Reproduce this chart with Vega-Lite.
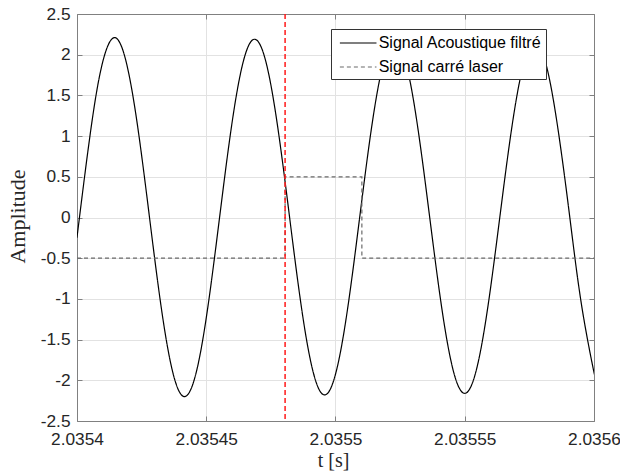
{
  "$schema": "https://vega.github.io/schema/vega-lite/v6.json",
  "autosize": {"type": "none"},
  "width": 517,
  "height": 407,
  "padding": {"left": 77, "top": 14, "right": 26, "bottom": 54},
  "background": "white",
  "view": {"stroke": null},
  "config": {
    "font": "Liberation Sans",
    "axis": {
      "labelFont": "Liberation Sans",
      "labelFontSize": 17.3,
      "labelColor": "#262626",
      "domainColor": "#808080",
      "tickColor": "#808080",
      "gridColor": "#e2e2e2",
      "titleFont": "Liberation Serif",
      "titleFontWeight": "normal",
      "titleColor": "#262626"
    },
    "legend": {
      "title": null, "orient": "none", "legendX": 254, "legendY": 15,
      "labelFont": "Liberation Sans", "labelFontSize": 16, "labelColor": "#000000",
      "labelLimit": 0, "labelExpr": "datum.label + ' '",
      "symbolType": "M-0.56,0H3.44", "symbolSize": 335, "symbolStrokeWidth": 1.2,
      "fillColor": "white", "strokeColor": "#333333", "padding": 4,
      "rowPadding": 6, "labelOffset": 23.7, "cornerRadius": 0
    }
  },
  "datasets": {
    "sig": [
      {"series": "Signal Acoustique filtré", "t": 2.0354, "y": -0.243},
      {"series": "Signal Acoustique filtré", "t": 2.03540095, "y": 0},
      {"series": "Signal Acoustique filtré", "t": 2.03540547, "y": 1.107},
      {"series": "Signal Acoustique filtré", "t": 2.03540998, "y": 1.915},
      {"series": "Signal Acoustique filtré", "t": 2.0354145, "y": 2.21},
      {"series": "Signal Acoustique filtré", "t": 2.03541902, "y": 1.912},
      {"series": "Signal Acoustique filtré", "t": 2.03542353, "y": 1.103},
      {"series": "Signal Acoustique filtré", "t": 2.03542805, "y": 0},
      {"series": "Signal Acoustique filtré", "t": 2.03543257, "y": -1.101},
      {"series": "Signal Acoustique filtré", "t": 2.03543708, "y": -1.906},
      {"series": "Signal Acoustique filtré", "t": 2.0354416, "y": -2.2},
      {"series": "Signal Acoustique filtré", "t": 2.03544612, "y": -1.903},
      {"series": "Signal Acoustique filtré", "t": 2.03545063, "y": -1.098},
      {"series": "Signal Acoustique filtré", "t": 2.03545515, "y": 0},
      {"series": "Signal Acoustique filtré", "t": 2.03545967, "y": 1.097},
      {"series": "Signal Acoustique filtré", "t": 2.03546418, "y": 1.898},
      {"series": "Signal Acoustique filtré", "t": 2.0354687, "y": 2.19},
      {"series": "Signal Acoustique filtré", "t": 2.03547322, "y": 1.895},
      {"series": "Signal Acoustique filtré", "t": 2.03547773, "y": 1.093},
      {"series": "Signal Acoustique filtré", "t": 2.03548225, "y": 0},
      {"series": "Signal Acoustique filtré", "t": 2.03548677, "y": -1.092},
      {"series": "Signal Acoustique filtré", "t": 2.03549128, "y": -1.889},
      {"series": "Signal Acoustique filtré", "t": 2.0354958, "y": -2.18},
      {"series": "Signal Acoustique filtré", "t": 2.03550032, "y": -1.886},
      {"series": "Signal Acoustique filtré", "t": 2.03550483, "y": -1.088},
      {"series": "Signal Acoustique filtré", "t": 2.03550935, "y": 0},
      {"series": "Signal Acoustique filtré", "t": 2.03551387, "y": 1.087},
      {"series": "Signal Acoustique filtré", "t": 2.03551838, "y": 1.88},
      {"series": "Signal Acoustique filtré", "t": 2.0355229, "y": 2.17},
      {"series": "Signal Acoustique filtré", "t": 2.03552742, "y": 1.877},
      {"series": "Signal Acoustique filtré", "t": 2.03553193, "y": 1.083},
      {"series": "Signal Acoustique filtré", "t": 2.03553645, "y": 0},
      {"series": "Signal Acoustique filtré", "t": 2.03554097, "y": -1.082},
      {"series": "Signal Acoustique filtré", "t": 2.03554548, "y": -1.872},
      {"series": "Signal Acoustique filtré", "t": 2.03555, "y": -2.16},
      {"series": "Signal Acoustique filtré", "t": 2.03555452, "y": -1.869},
      {"series": "Signal Acoustique filtré", "t": 2.03555903, "y": -1.078},
      {"series": "Signal Acoustique filtré", "t": 2.03556355, "y": 0},
      {"series": "Signal Acoustique filtré", "t": 2.03556807, "y": 1.077},
      {"series": "Signal Acoustique filtré", "t": 2.03557258, "y": 1.863},
      {"series": "Signal Acoustique filtré", "t": 2.0355771, "y": 2.15},
      {"series": "Signal Acoustique filtré", "t": 2.03558162, "y": 1.86},
      {"series": "Signal Acoustique filtré", "t": 2.03558613, "y": 1.073},
      {"series": "Signal Acoustique filtré", "t": 2.03559065, "y": 0},
      {"series": "Signal Acoustique filtré", "t": 2.03559517, "y": -1.072},
      {"series": "Signal Acoustique filtré", "t": 2.03559968, "y": -1.854},
      {"series": "Signal Acoustique filtré", "t": 2.0356, "y": -1.89}
    ],
    "sq": [
      {"series": "Signal carré laser", "i": 1, "t": 2.0354, "y": -0.5},
      {"series": "Signal carré laser", "i": 2, "t": 2.0354805, "y": -0.5},
      {"series": "Signal carré laser", "i": 3, "t": 2.0354805, "y": 0.5},
      {"series": "Signal carré laser", "i": 4, "t": 2.0355102, "y": 0.5},
      {"series": "Signal carré laser", "i": 5, "t": 2.0355102, "y": -0.5},
      {"series": "Signal carré laser", "i": 6, "t": 2.0356, "y": -0.5}
    ],
    "mark": [{"t": 2.0354805}]
  },
  "resolve": {"axis": {"x": "independent", "y": "independent"}},
  "layer": [
    {
      "data": {"name": "sig"},
      "mark": {"type": "line", "interpolate": "natural", "strokeWidth": 1.2, "clip": true},
      "encoding": {
        "x": {
          "field": "t", "type": "quantitative",
          "scale": {"domain": [2.0354, 2.0356], "nice": false, "zero": false},
          "axis": {
            "orient": "bottom", "grid": true,
            "values": [2.0354, 2.03545, 2.0355, 2.03555, 2.0356],
            "format": ".6~g",
            "tickSize": -5, "labelPadding": 14, "labelFlush": false,
            "title": "t [s]", "titleFontSize": 20,
            "titleX": 256, "titleY": 45, "titleBaseline": "alphabetic", "titleAlign": "center"
          }
        },
        "y": {
          "field": "y", "type": "quantitative",
          "scale": {"domain": [-2.5, 2.5], "nice": false, "zero": false},
          "axis": {
            "orient": "left", "grid": true,
            "values": [-2.5, -2, -1.5, -1, -0.5, 0, 0.5, 1, 1.5, 2, 2.5],
            "format": "~g",
            "labelExpr": "replace(datum.label, '\u2212', '-')",
            "tickSize": -5, "labelPadding": 12, "labelFlush": false,
            "title": "Amplitude", "titleFontSize": 22,
            "titleAngle": -90, "titleX": -52.5, "titleY": 202,
            "titleBaseline": "alphabetic", "titleAlign": "center"
          }
        },
        "color": {
          "field": "series", "type": "nominal",
          "scale": {"domain": ["Signal Acoustique filtré", "Signal carré laser"], "range": ["#000000", "#6a6a6a"]}
        },
        "strokeDash": {
          "field": "series", "type": "nominal",
          "scale": {"domain": ["Signal Acoustique filtré", "Signal carré laser"], "range": [[1, 0], [4, 3]]}
        }
      }
    },
    {
      "data": {"name": "sq"},
      "mark": {"type": "line", "strokeWidth": 1.2},
      "encoding": {
        "x": {
          "field": "t", "type": "quantitative",
          "axis": {"orient": "top", "grid": false, "labels": false, "title": null,
                   "values": [2.0354, 2.03545, 2.0355, 2.03555, 2.0356], "tickSize": -5}
        },
        "y": {
          "field": "y", "type": "quantitative",
          "axis": {"orient": "right", "grid": false, "labels": false, "title": null,
                   "values": [-2.5, -2, -1.5, -1, -0.5, 0, 0.5, 1, 1.5, 2, 2.5], "tickSize": -5}
        },
        "order": {"field": "i", "type": "quantitative"},
        "color": {"field": "series", "type": "nominal"},
        "strokeDash": {"field": "series", "type": "nominal"}
      }
    },
    {
      "data": {"name": "mark"},
      "mark": {"type": "rule", "color": "#ff1a1a", "strokeWidth": 1.5, "strokeDash": [5, 3]},
      "encoding": {
        "x": {"field": "t", "type": "quantitative", "axis": null}
      }
    }
  ]
}
